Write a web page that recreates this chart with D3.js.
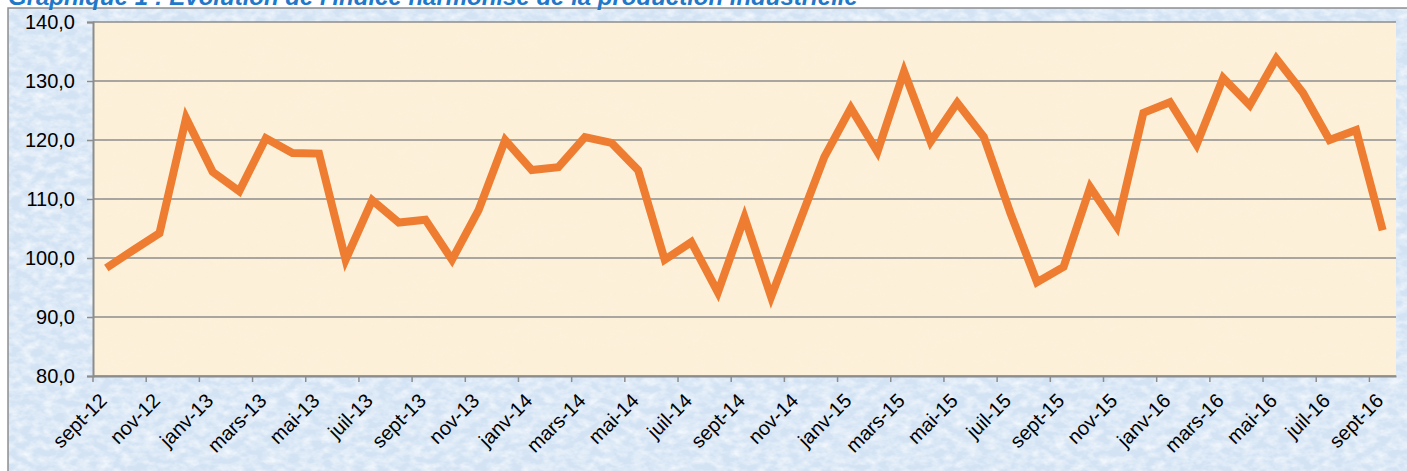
<!DOCTYPE html>
<html>
<head>
<meta charset="utf-8">
<script src="https://cdn.jsdelivr.net/npm/d3@7"></script>
<style>
  body { margin: 0; background: #fff; }
  svg { display: block; font-family: "Liberation Sans", Arial, sans-serif; }
</style>
</head>
<body>
<script>
// months from sept-12 to sept-16
var months = ["sept-12","oct-12","nov-12","déc-12","janv-13","févr-13","mars-13","avr-13","mai-13","juin-13","juil-13","août-13",
  "sept-13","oct-13","nov-13","déc-13","janv-14","févr-14","mars-14","avr-14","mai-14","juin-14","juil-14","août-14",
  "sept-14","oct-14","nov-14","déc-14","janv-15","févr-15","mars-15","avr-15","mai-15","juin-15","juil-15","août-15",
  "sept-15","oct-15","nov-15","déc-15","janv-16","févr-16","mars-16","avr-16","mai-16","juin-16","juil-16","août-16","sept-16"];

// indice harmonisé de la production industrielle
var ipi = [98.3,101.3,104.2,123.7,114.6,111.3,120.3,117.8,117.7,99.7,109.8,106.0,
  106.5,99.7,108.1,120.0,114.9,115.4,120.5,119.5,114.9,99.7,102.7,94.2,
  106.9,93.4,105.3,117.1,125.4,118.0,131.6,119.7,126.3,120.5,107.6,95.9,
  98.5,112.0,105.3,124.6,126.4,119.2,130.5,125.9,133.8,128.0,120.0,121.7,104.7];

var yTicks = [80,90,100,110,120,130,140];
var xLabels = months.filter(function(d, i) { return i % 2 === 0; });

var title = "Graphique 1 : Evolution de l'indice harmonisé de la production industrielle";

var W = 1407, H = 471;
var margin = {top: 22, right: 11, bottom: 95, left: 93};
var width = W - margin.left - margin.right,
    height = H - margin.top - margin.bottom;

var svg = d3.select("body").append("svg")
    .attr("width", W)
    .attr("height", H);

// textures
var defs = svg.append("defs");
var f1 = defs.append("filter").attr("id", "tex").attr("x", 0).attr("y", 0).attr("width", 1).attr("height", 1);
f1.append("feTurbulence").attr("type", "fractalNoise").attr("baseFrequency", "0.09 0.14").attr("numOctaves", 3).attr("seed", 7);
f1.append("feColorMatrix").attr("type", "matrix")
  .attr("values", "0 0 0 0 1  0 0 0 0 1  0 0 0 0 1  1.3 0 0 0 -0.45");
var f2 = defs.append("filter").attr("id", "tex2").attr("x", 0).attr("y", 0).attr("width", 1).attr("height", 1);
f2.append("feTurbulence").attr("type", "fractalNoise").attr("baseFrequency", "0.02 0.04").attr("numOctaves", 3).attr("seed", 3);
f2.append("feColorMatrix").attr("type", "matrix")
  .attr("values", "0 0 0 0 0.96  0 0 0 0 0.88  0 0 0 0 0.72  1.2 0 0 0 -0.45");

// outer chart area (blue tissue)
svg.append("rect").attr("x", 8).attr("y", 8).attr("width", W).attr("height", H)
  .attr("fill", "#d3e3f4").attr("stroke", "#8e8e8e").attr("stroke-width", 1.5);
svg.append("rect").attr("x", 9).attr("y", 9).attr("width", W).attr("height", H)
  .attr("filter", "url(#tex)");

// title (cut at top, as in the source)
svg.append("text")
  .attr("x", 8).attr("y", 5)
  .attr("fill", "#1f78c8")
  .style("font-size", "24px").style("font-weight", "bold").style("font-style", "italic")
  .text(title);

var g = svg.append("g").attr("transform", "translate(" + margin.left + "," + margin.top + ")");

var x = d3.scaleBand().domain(months).range([0, width]);
var y = d3.scaleLinear().domain([80, 140]).range([height, 0]);

// plot area
g.append("rect").attr("width", width).attr("height", height).attr("fill", "#fdf0d9");
g.append("rect").attr("width", width).attr("height", height).attr("filter", "url(#tex2)").attr("opacity", 0.5);

// gridlines
g.selectAll(".grid").data(yTicks).enter().append("line")
  .attr("x1", 0).attr("x2", width)
  .attr("y1", function(d) { return y(d); }).attr("y2", function(d) { return y(d); })
  .attr("stroke", "#8c8c8c").attr("stroke-width", 1.5);

// y axis
var yAxis = g.append("g").call(d3.axisLeft(y).tickValues(yTicks).tickSize(6).tickPadding(12)
  .tickFormat(function(d) { return d.toFixed(1).replace(".", ","); }));
yAxis.select(".domain").attr("stroke", "#8c8c8c").attr("stroke-width", 2);
yAxis.selectAll(".tick line").attr("stroke", "#8c8c8c").attr("stroke-width", 1.5);
yAxis.selectAll("text").style("font-size", "20px").attr("fill", "#000").attr("font-family", null);

// x axis: ticks on category boundaries, labels on category centres
var bw = x.bandwidth();
var xAxis = g.append("g").attr("transform", "translate(0," + height + ")")
  .call(d3.axisBottom(x).tickValues(xLabels).tickSize(6).tickSizeOuter(0));
xAxis.select(".domain").attr("stroke", "#8c8c8c").attr("stroke-width", 2);
xAxis.selectAll(".tick line").attr("stroke", "#8c8c8c").attr("stroke-width", 1.5)
  .attr("x1", -bw / 2).attr("x2", -bw / 2);
xAxis.selectAll(".tick text")
  .attr("font-family", null)
  .style("font-size", "20px").attr("fill", "#000")
  .style("text-anchor", "end")
  .attr("y", 0)
  .attr("dy", "0.35em")
  .attr("transform", "translate(-3,21) rotate(-45)");

// the line
var line = d3.line()
  .x(function(d, i) { return x(months[i]) + bw / 2; })
  .y(function(d) { return y(d); });

g.append("path")
  .datum(ipi)
  .attr("fill", "none")
  .attr("stroke", "#ee7d31")
  .attr("stroke-width", 8)
  .attr("stroke-linejoin", "miter")
  .attr("d", line);
</script>
</body>
</html>
